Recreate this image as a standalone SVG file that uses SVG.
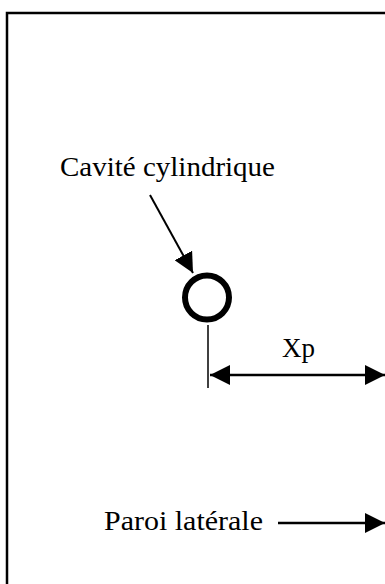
<svg xmlns="http://www.w3.org/2000/svg" width="385" height="584" viewBox="0 0 385 584">
<style>
.lbl{font-family:"Liberation Serif","Times New Roman",serif;font-size:27px;fill:#000}
.ln{stroke:#000;fill:none}
</style>
<defs>
<marker id="ah" viewBox="0 0 20 20" refX="20" refY="10" markerWidth="20" markerHeight="20" markerUnits="userSpaceOnUse" orient="auto-start-reverse">
<path d="M0,0 L20,10 L0,20 z" fill="#000"/>
</marker>
</defs>
<rect width="385" height="584" fill="#fff"/>
<g id="frame">
<path class="ln" stroke-width="2.5" d="M7,584 L7,13 L385,13"/>
</g>
<g id="cavite">
<circle cx="207" cy="297.5" r="22" class="ln" stroke-width="6"/>
<text class="lbl" x="60" y="176" textLength="215" lengthAdjust="spacingAndGlyphs">Cavité cylindrique</text>
</g>
<g id="xp-label">
<text class="lbl" x="282" y="357" font-size="26">Xp</text>
</g>
<g id="paroi">
<text class="lbl" x="104" y="530" textLength="159" lengthAdjust="spacingAndGlyphs">Paroi latérale</text>
</g>
<g id="connectors">
<line class="ln" stroke-width="2" x1="150" y1="195" x2="193" y2="273" marker-end="url(#ah)"/>
<line class="ln" stroke-width="1.5" x1="208" y1="325" x2="208" y2="388"/>
<line class="ln" stroke-width="2.5" x1="210" y1="375" x2="385" y2="375" marker-start="url(#ah)" marker-end="url(#ah)"/>
<line class="ln" stroke-width="2.5" x1="278" y1="523" x2="385" y2="523" marker-end="url(#ah)"/>
</g>
</svg>
